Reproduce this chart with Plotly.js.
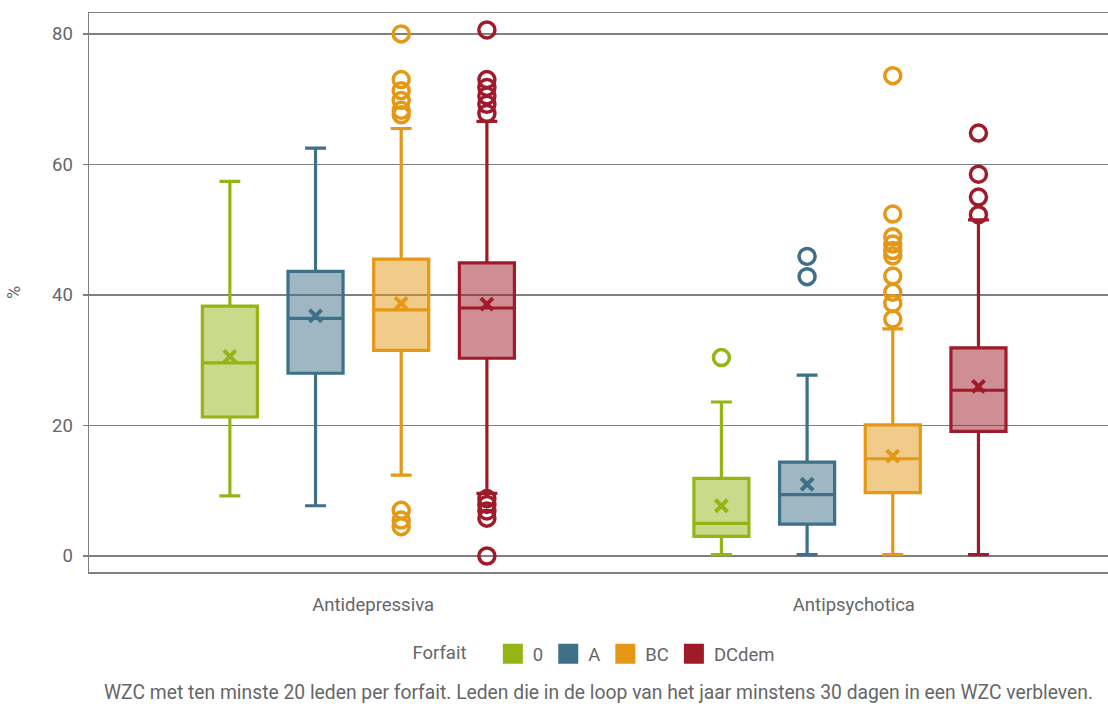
<!DOCTYPE html>
<html>
<head>
<meta charset="utf-8">
<script src="https://cdn.plot.ly/plotly-3.0.1.min.js"></script>
<style>html,body{margin:0;padding:0;background:#fff;}#chart{width:1108px;height:704px;}</style>
</head>
<body>
<div id="chart"></div>
<script>
// ---- data ----
const categories = ['Antidepressiva', 'Antipsychotica'];
const forfaits = ['0', 'A', 'BC', 'DCdem'];
// per forfait: [Antidepressiva, Antipsychotica]
const lowerFence = [[9.2, 0.2], [7.7, 0.2], [12.4, 0.2], [9.6, 0.2]];
const q1 = [[21.3, 3.0], [28.0, 4.9], [31.5, 9.7], [30.3, 19.1]];
const median = [[29.6, 5.0], [36.4, 9.4], [37.7, 14.9], [38.0, 25.4]];
const q3 = [[38.3, 11.9], [43.6, 14.4], [45.5, 20.1], [44.9, 31.9]];
const upperFence = [[57.4, 23.6], [62.5, 27.7], [65.5, 34.8], [66.6, 51.5]];
const means = [[30.6, 7.7], [36.8, 11.0], [38.7, 15.3], [38.6, 26.0]];
const outliers0 = [[], [30.4]];
const outliersA = [[], [45.9, 42.8]];
const outliersBC = [[80.0, 73.0, 71.3, 69.8, 68.3, 67.6, 7.0, 5.5, 4.5],
                    [73.6, 52.4, 48.9, 47.8, 46.8, 46.0, 42.9, 40.4, 38.7, 36.3]];
const outliersDC = [[80.6, 73.0, 71.8, 70.5, 69.2, 67.8, 8.8, 7.9, 6.9, 5.8, 0.0],
                    [64.8, 58.5, 55.0, 52.3]];
const outliers = [outliers0, outliersA, outliersBC, outliersDC];

// ---- style ----
const lineColors = ['#95B416', '#3E7088', '#E49816', '#A01B29'];
const fillColors = ['rgba(149,180,22,0.5)', 'rgba(62,112,136,0.5)', 'rgba(228,152,22,0.5)', 'rgba(160,27,41,0.5)'];
const FONT = 'Roboto, Arial, sans-serif';
const TXT = '#666666';
const slot = 0.1743;
const boxW = 0.112;

const traces = [];
forfaits.forEach((f, k) => {
  const xs = categories.map((c, i) => i + (k - 1.5) * slot);
  traces.push({
    type: 'box', name: f, showlegend: false,
    x: xs,
    q1: q1[k], median: median[k], q3: q3[k],
    lowerfence: lowerFence[k], upperfence: upperFence[k],
    boxpoints: false, width: boxW, whiskerwidth: 0.38,
    line: {color: lineColors[k], width: 3.2},
    fillcolor: fillColors[k], hoverinfo: 'skip'
  });
  // means
  traces.push({
    type: 'scatter', mode: 'markers', showlegend: false, hoverinfo: 'skip',
    x: xs, y: means[k],
    marker: {symbol: 'x-thin', size: 12, color: lineColors[k], line: {color: lineColors[k], width: 4}}
  });
  // outliers
  const ox = [], oy = [];
  categories.forEach((c, i) => {
    outliers[k][i].forEach(v => { ox.push(xs[i]); oy.push(v); });
  });
  traces.push({
    type: 'scatter', mode: 'markers', showlegend: false, hoverinfo: 'skip',
    x: ox, y: oy,
    marker: {symbol: 'circle-open', size: 16, color: lineColors[k], line: {color: lineColors[k], width: 3.5}}
  });
});
// legend entries
forfaits.forEach((f, k) => {
  traces.push({
    type: 'scatter', mode: 'markers', name: f, x: [null], y: [null],
    marker: {symbol: 'square', size: 16, color: lineColors[k], line: {color: lineColors[k], width: 4}}
  });
});

const layout = {
  width: 1108, height: 704,
  margin: {l: 89, r: 0, t: 13, b: 132},
  paper_bgcolor: '#fff', plot_bgcolor: '#fff',
  font: {family: FONT, size: 18, color: TXT},
  boxmode: 'overlay',
  showlegend: true,
  xaxis: {
    range: [-0.548, 1.525],
    tickvals: categories.map((c, i) => i + [0.03, 0.008][i]),
    ticktext: categories,
    showgrid: false, zeroline: false,
    showline: true, mirror: true, linecolor: '#7f7f7f', linewidth: 1.5,
    ticks: '', ticklabelstandoff: 15,
    tickfont: {family: FONT, size: 18.5, color: TXT}
  },
  yaxis: {
    range: [-2.45, 83.2],
    tickvals: [0, 20, 40, 60, 80],
    showgrid: true, gridcolor: '#7f7f7f', gridwidth: 1.5,
    zeroline: false,
    showline: true, linecolor: '#7f7f7f', linewidth: 1.5,
    ticks: 'outside', ticklen: 5, tickcolor: '#7f7f7f', tickwidth: 1.5,
    ticklabelstandoff: 6,
    tickfont: {family: FONT, size: 18.5, color: TXT},
    title: {text: '%', font: {family: FONT, size: 18, color: TXT}, standoff: 26}
  },
  legend: {
    orientation: 'h', x: 0.497, xanchor: 'center', y: -0.147, yanchor: 'middle',
    title: {text: 'Forfait    ', side: 'left', font: {family: FONT, size: 18.5, color: TXT}},
    font: {family: FONT, size: 18.5, color: TXT},
    traceorder: 'normal', itemclick: false
  },
  annotations: [{
    xref: 'paper', yref: 'paper', x: 0.5, y: -0.215, xanchor: 'center', yanchor: 'middle',
    showarrow: false,
    text: 'WZC met ten minste 20 leden per forfait. Leden die in de loop van het jaar minstens 30 dagen in een WZC verbleven.',
    font: {family: FONT, size: 19.3, color: TXT}
  }]
};

Plotly.newPlot('chart', traces, layout, {displayModeBar: false, staticPlot: true});
</script>
</body>
</html>
